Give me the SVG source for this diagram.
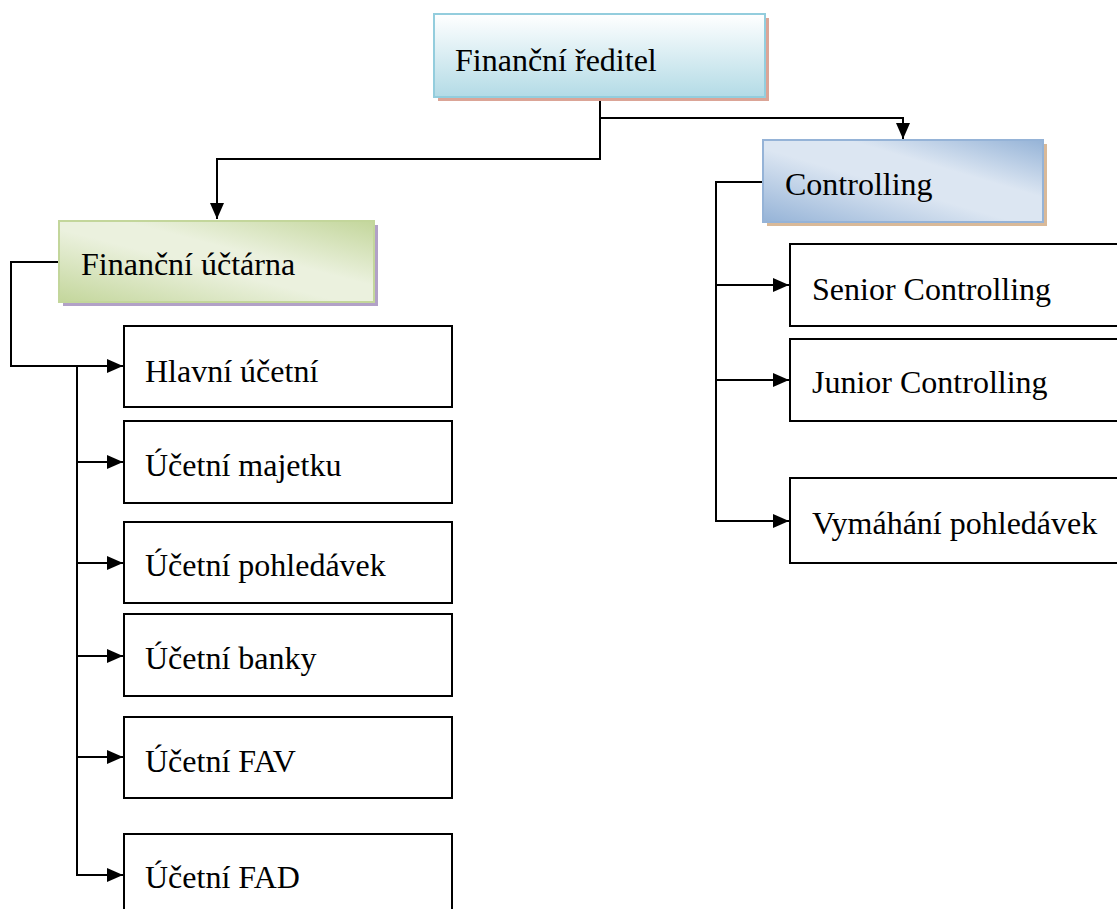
<svg xmlns="http://www.w3.org/2000/svg" width="1117" height="909" viewBox="0 0 1117 909" font-family="'Liberation Serif', 'Times New Roman', serif">
<style>
text { font-family: "Liberation Serif", "Times New Roman", serif; font-size: 32px; fill: #000; }
.box { fill: #fff; stroke: #000; stroke-width: 2; }
.conn { fill: none; stroke: #000; stroke-width: 2; }
</style>
<defs>
<linearGradient id="gTop" x1="0" y1="0" x2="0" y2="1">
<stop offset="0" stop-color="#ffffff"/>
<stop offset="1" stop-color="#b3dbe6"/>
</linearGradient>
<linearGradient id="gCtrl" x1="0" y1="1" x2="1" y2="0">
<stop offset="0" stop-color="#95b3d7"/>
<stop offset="0.45" stop-color="#dce6f2"/>
<stop offset="0.65" stop-color="#dce6f2"/>
<stop offset="1" stop-color="#95b3d7"/>
</linearGradient>
<linearGradient id="gUct" x1="0" y1="1" x2="1" y2="0">
<stop offset="0" stop-color="#c3d69b"/>
<stop offset="0.45" stop-color="#ebf1de"/>
<stop offset="0.6" stop-color="#ebf1de"/>
<stop offset="1" stop-color="#c3d69b"/>
</linearGradient>
<marker id="arr" viewBox="0 0 16 14" refX="16" refY="7" markerWidth="16" markerHeight="14" markerUnits="userSpaceOnUse" orient="auto">
<path d="M0,0 L16,7 L0,14 z" fill="#000"/>
</marker>
</defs>

<g id="connectors">
<path class="conn" d="M600,97 V159 H217 V219" marker-end="url(#arr)"/>
<path class="conn" d="M600,118 H903 V139" marker-end="url(#arr)"/>
<path class="conn" d="M763,182 H716 V521 H789" marker-end="url(#arr)"/>
<path class="conn" d="M716,285 H789" marker-end="url(#arr)"/>
<path class="conn" d="M716,380 H789" marker-end="url(#arr)"/>
<path class="conn" d="M59,262 H11 V366 H123" marker-end="url(#arr)"/>
<path class="conn" d="M77,366 V875 H123" marker-end="url(#arr)"/>
<path class="conn" d="M77,462 H123" marker-end="url(#arr)"/>
<path class="conn" d="M77,563 H123" marker-end="url(#arr)"/>
<path class="conn" d="M77,656 H123" marker-end="url(#arr)"/>
<path class="conn" d="M77,757 H123" marker-end="url(#arr)"/>
</g>

<g id="financni-reditel">
<rect x="438" y="18" width="331" height="83" fill="#dba597"/>
<rect x="434" y="14" width="331" height="83" fill="url(#gTop)" stroke="#93cddd" stroke-width="2"/>
<text x="455" y="71">Finanční ředitel</text>
</g>

<g id="controlling">
<rect x="767" y="144" width="280" height="82" fill="#d9b998"/>
<rect x="763" y="140" width="280" height="82" fill="url(#gCtrl)" stroke="#95b3d7" stroke-width="2"/>
<text x="785" y="195">Controlling</text>
</g>

<g id="financni-uctarna">
<rect x="63" y="225" width="315" height="81" fill="#b2a1c7"/>
<rect x="59" y="221" width="315" height="81" fill="url(#gUct)" stroke="#c3d69b" stroke-width="2"/>
<text x="81" y="275">Finanční účtárna</text>
</g>

<g id="hlavni-ucetni">
<rect class="box" x="124" y="326" width="328" height="81"/>
<text x="145" y="382">Hlavní účetní</text>
</g>
<g id="ucetni-majetku">
<rect class="box" x="124" y="421" width="328" height="82"/>
<text x="145" y="476">Účetní majetku</text>
</g>
<g id="ucetni-pohledavek">
<rect class="box" x="124" y="522" width="328" height="81"/>
<text x="145" y="576">Účetní pohledávek</text>
</g>
<g id="ucetni-banky">
<rect class="box" x="124" y="614" width="328" height="82"/>
<text x="145" y="669">Účetní banky</text>
</g>
<g id="ucetni-fav">
<rect class="box" x="124" y="717" width="328" height="81"/>
<text x="145" y="772">Účetní FAV</text>
</g>
<g id="ucetni-fad">
<rect class="box" x="124" y="834" width="328" height="90"/>
<text x="145" y="888">Účetní FAD</text>
</g>

<g id="senior-controlling">
<rect class="box" x="790" y="244" width="340" height="82"/>
<text x="812" y="300">Senior Controlling</text>
</g>
<g id="junior-controlling">
<rect class="box" x="790" y="339" width="340" height="82"/>
<text x="812" y="393">Junior Controlling</text>
</g>
<g id="vymahani-pohledavek">
<rect class="box" x="790" y="478" width="340" height="85"/>
<text x="812" y="534">Vymáhání pohledávek</text>
</g>
</svg>
